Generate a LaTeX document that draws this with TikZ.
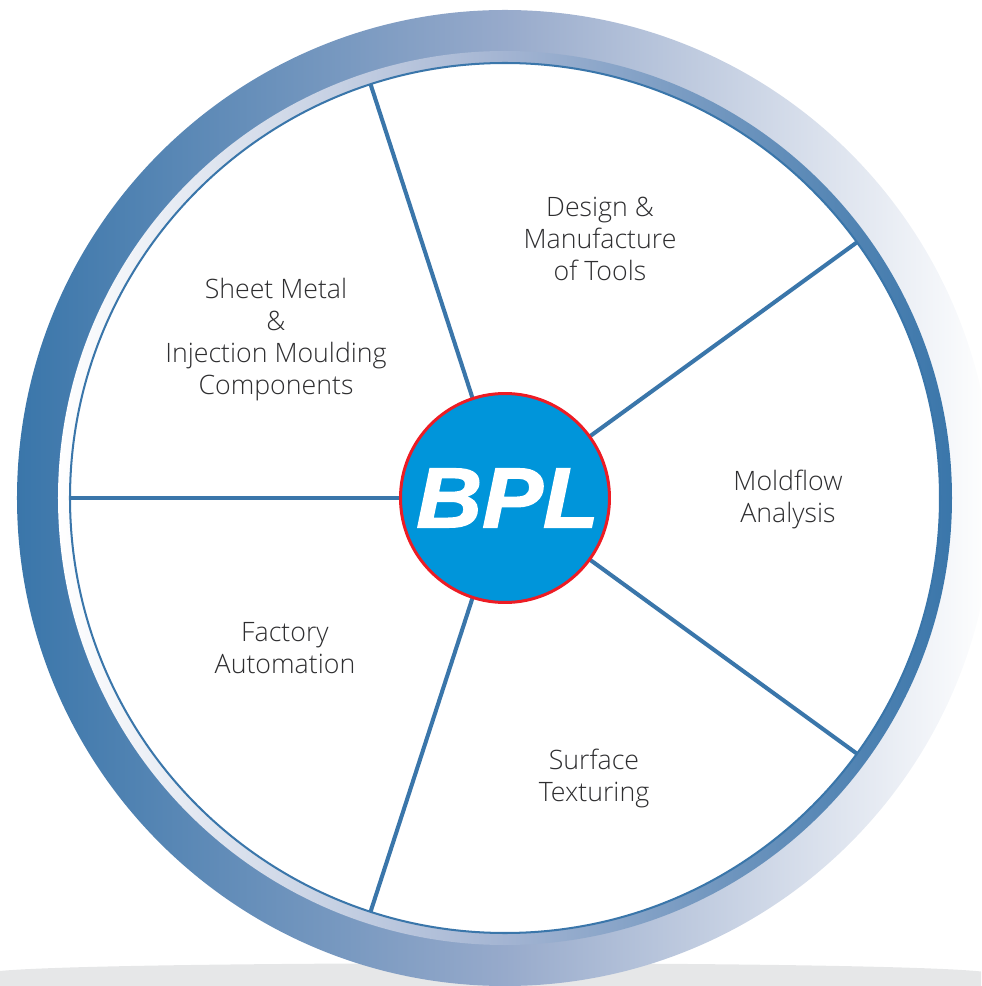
\documentclass[tikz,border=0pt]{standalone}
\usepackage{fontspec}
\setmainfont{Open Sans Light}
\newfontfamily\logofont[FakeBold=1.6]{Liberation Sans Bold Italic}
\definecolor{ringblue}{HTML}{3A76AA}
\definecolor{ringmid}{HTML}{97AACB}
\definecolor{bandmid}{HTML}{A3B4D2}
\definecolor{hubblue}{HTML}{0095DA}
\definecolor{hubred}{HTML}{ED1C24}
\definecolor{floorgray}{HTML}{E6E7E8}
\definecolor{labelgray}{HTML}{2E2E30}
\tikzset{
  spoke/.style={draw=ringblue, line width=2.3pt},
  segment/.style={align=center, text=labelgray, font=\fontsize{15.2}{18.2}\selectfont},
}

\begin{document}
\begin{tikzpicture}
\useasboundingbox (-10.1,-9.76) rectangle (9.52,9.96);
\clip (-10.1,-9.76) rectangle (9.52,9.96);

\fill[floorgray] (-10.1,-9.76) -- (-10.1,-9.46) .. controls (-8,-9.25) and (7.5,-9.25) .. (9.52,-9.47) -- (9.52,-9.76) -- cycle;

\shade[left color=ringblue, right color=white, middle color=ringmid] (0,0) circle (9.76);
\shade[left color=white, right color=ringblue, middle color=bandmid] (0,0) circle (8.94);
\draw[fill=white, draw=ringblue, line width=1.15pt] (0,0) circle (8.7);

\coordinate (rim1) at (108:8.7);
\coordinate (rim2) at (36:8.7);
\coordinate (rim3) at (-36:8.7);
\coordinate (rim4) at (-108:8.7);
\coordinate (rim5) at (180:8.7);

\node[circle, minimum size=4.18cm, inner sep=0pt] (hub) at (0,0) {};
\draw[spoke] (rim1)--(hub);
\draw[spoke] (rim2)--(hub);
\draw[spoke] (rim3)--(hub);
\draw[spoke] (rim4)--(hub);
\draw[spoke] (rim5)--(hub);
\fill[hubblue] (hub.center) circle (2.09);
\draw[hubred, line width=1.7pt] (hub.center) circle (2.09);

\node[text=white, xscale=1.07, font=\fontsize{48.5}{50}\selectfont\logofont] (logo) at (0.05,0) {BPL};

\node[segment] (tools) at (1.9,5.18) {Design \&\\Manufacture\\of Tools};
\node[segment] (moulding) at (-4.58,3.17) {Sheet Metal\\\&\\Injection Moulding\\Components};
\node[segment] (moldflow) at (5.66,-0.02) {Moldflow\\Analysis};
\node[segment] (texturing) at (1.78,-5.6) {Surface\\Texturing};
\node[segment] (automation) at (-4.4,-3.0) {Factory\\Automation};
\end{tikzpicture}
\end{document}
